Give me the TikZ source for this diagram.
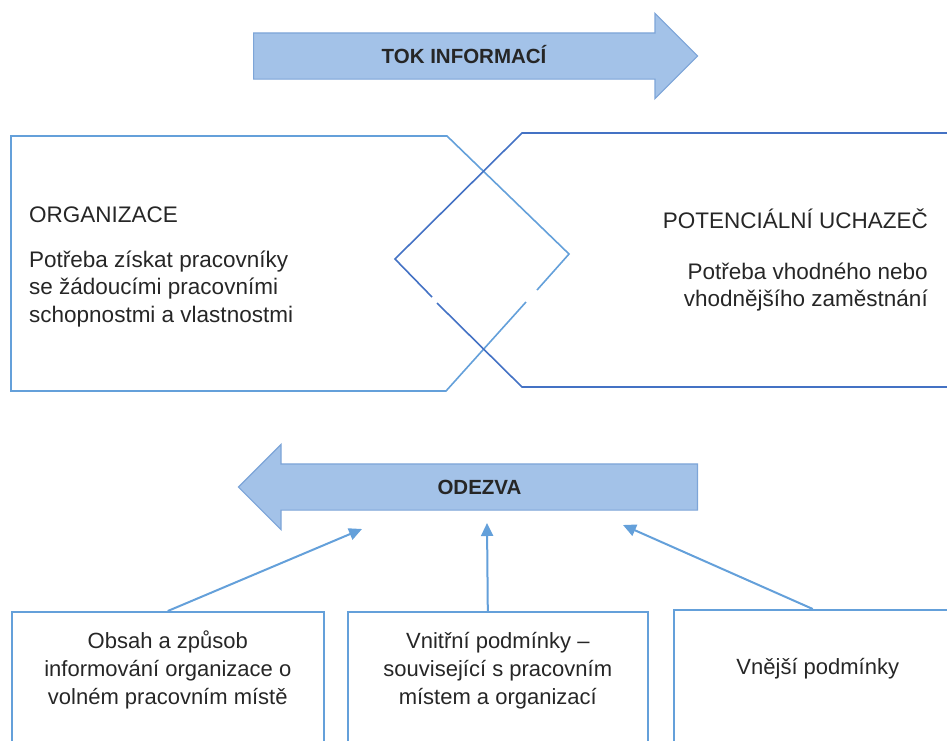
\documentclass[tikz,border=0pt]{standalone}
\usepackage{fontspec}
\setmainfont{Liberation Sans}
\usepackage{xcolor}
\usepackage{tikz}
\usetikzlibrary{positioning, arrows.meta, shapes.arrows}
\definecolor{arrfill}{RGB}{163, 194, 232}
\definecolor{arrline}{RGB}{125, 165, 216}
\definecolor{orgcolor}{RGB}{100, 160, 218}
\definecolor{uchcolor}{RGB}{68, 114, 196}
\definecolor{boxcolor}{RGB}{100, 160, 218}
\definecolor{txtcolor}{RGB}{38, 38, 38}
\newcommand{\tstrut}{\rule{0pt}{22pt}}

\begin{document}
\begin{tikzpicture}[
  x=1pt, y=-1pt,
  >={Triangle[length=13pt, width=12pt]},
  % --- Styles ---
  flowarrow/.style={
    single arrow, draw=arrline, fill=arrfill, line width=1.2pt,
    single arrow head extend=19.5pt, single arrow tip angle=90,
    text height=15pt, text depth=0pt, inner ysep=15pt, inner xsep=6pt,
    font=\fontsize{20.5}{24}\selectfont\bfseries, text=txtcolor},
  sideline/.style={draw=#1, line width=1.6pt, line join=miter},
  bigtext/.style={inner sep=0pt, text=txtcolor,
    font=\fontsize{22.5}{27.5}\selectfont},
  lowbox/.style={rectangle, draw=boxcolor, line width=1.6pt,
    minimum height=200pt, inner sep=0pt},
  lowtext/.style={inner sep=0pt, align=center, text=txtcolor,
    font=\fontsize{22}{28}\selectfont},
  conn/.style={->, draw=boxcolor, fill=boxcolor, line width=2pt},
]
\useasboundingbox (0,0) rectangle (947,740);
\clip (0,0) rectangle (947,740);
% === BLOCK ARROWS ===
\node[flowarrow, minimum height=444pt, anchor=tail] (tok) at (253,56) {TOK INFORMACÍ};
\node[flowarrow, minimum height=459pt, shape border rotate=180, anchor=tail]
  (odezva) at (698,487) {ODEZVA};
% === ORGANIZACE / UCHAZEČ ===
\draw[sideline=orgcolor] (537,290) -- (569,254) -- (447,136) -- (11,136)
  -- (11,391) -- (446,391) -- (526,302);
\draw[sideline=uchcolor] (432,297) -- (395,259) -- (522,133) -- (960,133);
\draw[sideline=uchcolor] (437,303) -- (522,387) -- (960,387);
\node[bigtext, align=left, anchor=north west] (org) at (29,200) {%
  \tstrut ORGANIZACE\\[17.5pt]
  Potřeba získat pracovníky\\
  se žádoucími pracovními\\
  schopnostmi a vlastnostmi};
\node[bigtext, align=right, anchor=north east] (uch) at (928,206) {%
  \tstrut POTENCIÁLNÍ UCHAZEČ\\[23.5pt]
  Potřeba vhodného nebo\\
  vhodnějšího zaměstnání};
% === LOWER BOXES ===
\node[lowbox, minimum width=312pt, anchor=north west] (obsah) at (11,611) {};
\node[lowbox, minimum width=300pt, anchor=north west] (vnitrni) at (347,611) {};
\node[lowbox, minimum width=288pt, anchor=north west] (vnejsi) at (673,609) {};
\node[lowtext, below=15pt of obsah.north] (obsahT) {%
  \tstrut Obsah a způsob\\ informování organizace o\\ volném pracovním místě};
\node[lowtext, below=15pt of vnitrni.north, xshift=0pt] (vnitrniT) {%
  \tstrut Vnitřní podmínky –\\ související s pracovním\\ místem a organizací};
\node[lowtext, below=43pt of vnejsi.north] (vnejsiT) {\tstrut Vnější podmínky};
% === ARROWS TO ODEZVA ===
\coordinate (t1) at (362,529);
\coordinate (t2) at (487,523);
\coordinate (t3) at (623,525);
\draw[conn] (obsah.north) -- (t1);
\draw[conn] ([xshift=-10pt]vnitrni.north) -- (t2);
\draw[conn] ([xshift=-5pt]vnejsi.north) -- (t3);
\end{tikzpicture}
\end{document}
